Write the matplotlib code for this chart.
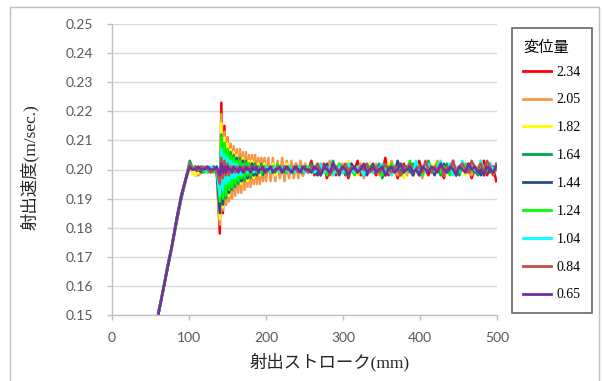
import numpy as np
import matplotlib
matplotlib.use("Agg")
import matplotlib.pyplot as plt
from matplotlib.patches import Rectangle
from matplotlib.ticker import MultipleLocator, FormatStrFormatter

# injection stroke sample points (mm), shared by every run
stroke = [60, 66, 72, 78, 84, 90, 96, 101,
          104, 108, 112, 116, 120, 124, 128, 132, 136,
          140, 142, 144, 146, 148, 150, 152, 154, 156, 158, 160, 162, 164, 166, 168,
          170, 172, 174, 176, 178, 180, 182, 184, 186, 188, 190, 192, 194, 196, 198, 200,
          203, 206, 209, 212, 215, 218, 221, 224, 227, 230, 233, 236, 239, 242, 245, 248, 251,
          255, 259, 263, 267, 271, 275, 279, 283, 287, 291, 295, 299, 303, 307, 311, 315,
          319, 323, 327, 331, 335, 339, 343, 347, 351, 355, 359, 363, 367, 371, 375, 379,
          383, 387, 391, 395, 399, 403, 407, 411, 415, 419, 423, 427, 431, 435, 439, 443,
          447, 451, 455, 459, 463, 467, 471, 475, 479, 483, 487, 491, 495, 499]

# injection speed for each displacement run (mm/sec)
v_234 = [150, 158, 166, 174, 183, 191, 197, 202,
         201, 200, 199, 201, 200, 200, 199, 201, 200,
         178, 223, 185, 215, 188, 211, 190, 208, 192, 207, 193, 206, 194, 205, 195,
         205, 196, 204, 196, 204, 197, 203, 197, 203, 197, 203, 198, 202, 198, 203, 198,
         202, 198, 202, 199, 202, 198, 201, 199, 202, 198, 201, 199, 202, 199, 201, 198, 201,
         200, 203, 198, 201, 199, 202, 197, 200, 201, 198, 202, 199, 200, 197, 201, 200,
         203, 198, 200, 199, 202, 200, 198, 201, 199, 204, 198, 200, 201, 197, 200, 202,
         199, 201, 198, 200, 203, 199, 200, 198, 201, 199, 202, 200, 197, 201, 200, 203,
         198, 200, 201, 199, 202, 197, 200, 201, 199, 203, 198, 200, 201, 196]
v_205 = [150, 158, 166, 173, 182, 190, 196, 201,
         199, 198, 198, 199, 199, 200, 200, 199, 200,
         181, 219, 186, 213, 188, 211, 189, 209, 190, 208, 191, 207, 192, 207, 192,
         206, 193, 206, 194, 205, 194, 205, 195, 205, 195, 204, 195, 204, 196, 204, 196,
         204, 196, 204, 196, 203, 197, 204, 196, 203, 197, 203, 197, 202, 197, 203, 198, 202,
         199, 201, 200, 198, 202, 199, 201, 203, 198, 200, 199, 202, 200, 198, 201, 199,
         200, 202, 197, 201, 200, 199, 202, 198, 200, 201, 199, 203, 200, 198, 201, 200,
         198, 202, 199, 201, 200, 197, 202, 200, 199, 201, 203, 198, 200, 199, 202, 200,
         198, 201, 200, 202, 199, 198, 201, 200, 203, 199, 200, 202, 198, 200]
v_182 = [150, 159, 166, 174, 183, 191, 197, 202,
         199, 198, 199, 199, 200, 199, 200, 200, 200,
         183, 216, 187, 211, 190, 209, 191, 207, 193, 206, 194, 205, 195, 204, 195,
         204, 196, 203, 196, 203, 197, 203, 197, 202, 198, 202, 198, 202, 198, 202, 199,
         201, 199, 202, 198, 201, 199, 201, 199, 202, 199, 201, 200, 201, 199, 201, 199, 200,
         201, 199, 200, 202, 198, 200, 201, 199, 202, 200, 198, 201, 200, 203, 199, 200,
         198, 201, 200, 199, 202, 200, 199, 201, 198, 200, 202, 199, 201, 200, 199, 197,
         201, 200, 202, 199, 200, 198, 201, 200, 202, 199, 200, 201, 198, 200, 199, 202,
         200, 199, 201, 198, 200, 202, 199, 201, 200, 198, 201, 199, 200, 201]
v_164 = [151, 158, 167, 174, 183, 191, 197, 203,
         201, 200, 200, 201, 200, 199, 200, 201, 200,
         186, 212, 188, 209, 190, 207, 192, 206, 193, 205, 194, 204, 195, 204, 196,
         203, 196, 203, 197, 202, 197, 202, 198, 202, 198, 201, 199, 202, 198, 201, 199,
         201, 199, 201, 199, 201, 200, 201, 199, 201, 200, 200, 199, 201, 200, 201, 199, 200,
         200, 202, 199, 201, 198, 200, 201, 199, 203, 200, 199, 201, 198, 200, 202, 199,
         200, 201, 198, 200, 201, 199, 200, 202, 197, 200, 201, 199, 200, 202, 198, 200,
         201, 199, 202, 200, 198, 201, 200, 203, 199, 200, 201, 198, 200, 202, 199, 201,
         200, 198, 201, 200, 199, 202, 200, 198, 201, 199, 200, 202, 199, 200]
v_144 = [150, 158, 166, 174, 182, 190, 197, 202,
         200, 201, 200, 199, 200, 201, 200, 200, 199,
         185, 209, 188, 207, 191, 206, 192, 205, 194, 204, 195, 204, 196, 203, 196,
         203, 197, 202, 197, 202, 198, 202, 198, 201, 198, 201, 199, 201, 199, 201, 199,
         201, 199, 201, 200, 201, 199, 200, 201, 199, 200, 201, 199, 200, 201, 200, 199, 201,
         199, 201, 200, 198, 201, 200, 202, 199, 200, 201, 198, 200, 201, 199, 202, 200,
         199, 201, 200, 198, 200, 202, 199, 200, 201, 198, 200, 201, 199, 203, 200, 199,
         201, 200, 198, 202, 199, 200, 201, 199, 200, 198, 201, 200, 202, 199, 200, 201,
         198, 200, 202, 199, 200, 201, 199, 200, 198, 201, 200, 199, 201, 200]
v_124 = [150, 158, 166, 174, 183, 191, 197, 202,
         201, 200, 201, 200, 199, 201, 200, 199, 201,
         189, 211, 190, 209, 191, 207, 193, 205, 194, 204, 195, 203, 196, 203, 197,
         202, 197, 202, 198, 202, 198, 201, 199, 201, 199, 201, 199, 201, 199, 201, 200,
         201, 199, 201, 200, 202, 199, 201, 200, 199, 201, 200, 199, 201, 200, 201, 199, 200,
         201, 199, 200, 202, 199, 201, 198, 200, 201, 199, 202, 200, 199, 201, 200, 198,
         201, 200, 199, 202, 200, 201, 199, 200, 198, 201, 200, 202, 199, 200, 201, 199,
         200, 203, 199, 200, 201, 198, 200, 201, 199, 200, 202, 199, 201, 200, 198, 201,
         200, 199, 200, 202, 199, 201, 200, 199, 201, 198, 200, 201, 199, 200]
v_104 = [150, 158, 166, 174, 183, 191, 197, 202,
         200, 200, 201, 200, 200, 199, 201, 200, 200,
         191, 207, 193, 205, 195, 204, 196, 203, 197, 202, 197, 202, 198, 201, 198,
         201, 199, 201, 199, 201, 199, 200, 199, 201, 200, 200, 199, 201, 200, 200, 200,
         201, 199, 200, 201, 200, 199, 201, 200, 200, 199, 201, 200, 199, 201, 200, 200, 199,
         200, 201, 199, 200, 202, 199, 200, 201, 198, 200, 201, 199, 200, 202, 200, 199,
         201, 200, 198, 201, 200, 199, 201, 200, 202, 199, 200, 198, 201, 200, 202, 199,
         200, 201, 199, 203, 200, 199, 201, 202, 199, 200, 201, 203, 199, 200, 202, 198,
         201, 200, 203, 199, 201, 202, 200, 199, 203, 200, 201, 202, 200, 201]
v_084 = [150, 158, 166, 174, 183, 191, 197, 202,
         200, 201, 200, 200, 201, 200, 199, 200, 200,
         195, 204, 197, 203, 198, 202, 198, 201, 199, 201, 199, 201, 199, 200, 200,
         201, 199, 200, 200, 201, 199, 200, 200, 201, 200, 199, 200, 201, 200, 200, 199,
         200, 201, 199, 200, 201, 200, 199, 201, 200, 200, 199, 201, 200, 199, 200, 201, 200,
         199, 201, 200, 202, 199, 200, 201, 198, 200, 201, 199, 200, 202, 199, 201, 200,
         199, 201, 200, 202, 199, 200, 201, 199, 200, 202, 200, 199, 201, 200, 198, 201,
         200, 202, 199, 200, 201, 199, 203, 200, 199, 201, 200, 202, 198, 201, 200, 203,
         199, 201, 202, 200, 199, 203, 201, 200, 202, 199, 203, 201, 198, 202]
v_065 = [150, 158, 166, 174, 183, 191, 197, 201,
         200, 200, 201, 200, 200, 201, 200, 200, 201,
         198, 202, 199, 201, 199, 201, 200, 200, 199, 201, 200, 200, 199, 201, 200,
         199, 200, 201, 200, 200, 199, 201, 200, 200, 201, 199, 200, 200, 201, 199, 200,
         200, 201, 199, 200, 200, 201, 199, 200, 201, 200, 199, 200, 201, 200, 199, 201, 200,
         200, 199, 201, 200, 198, 201, 200, 199, 202, 200, 199, 201, 200, 198, 200, 201,
         199, 200, 202, 199, 200, 201, 199, 200, 201, 198, 200, 201, 199, 200, 202, 199,
         200, 201, 199, 200, 198, 201, 200, 199, 201, 200, 199, 202, 200, 199, 201, 200,
         198, 201, 200, 199, 202, 200, 201, 199, 200, 198, 201, 200, 199, 201]

runs = [v_234, v_205, v_182, v_164, v_144, v_124, v_104, v_084, v_065]
labels = ["2.34", "2.05", "1.82", "1.64", "1.44", "1.24", "1.04", "0.84", "0.65"]
colors = ["#ff0000", "#f79646", "#ffff00", "#00a550", "#2c4d8a",
          "#00ff00", "#00ffff", "#c0504d", "#7030a0"]

serif = ["Liberation Serif", "Noto Sans CJK JP"]

fig = plt.figure(figsize=(6.02, 3.81), dpi=100)
ax = fig.add_axes([112 / 602, 1 - 315 / 381, 385 / 602, 291 / 381])

for v, lab, col in zip(runs, labels, colors):
    ax.plot(stroke, np.array(v) / 1000.0, color=col, lw=1.8, label=lab,
            solid_joinstyle="round")

ax.set_xlim(0, 500)
ax.set_ylim(0.15, 0.25)
ax.xaxis.set_major_locator(MultipleLocator(100))
ax.yaxis.set_major_locator(MultipleLocator(0.01))
ax.yaxis.set_major_formatter(FormatStrFormatter("%.2f"))
ax.grid(axis="y", color="#d9d9d9", lw=1)
ax.set_axisbelow(True)
for side in ["top", "right"]:
    ax.spines[side].set_visible(False)
for side in ["left", "bottom"]:
    ax.spines[side].set_color("#bfbfbf")
    ax.spines[side].set_linewidth(1)
ax.tick_params(axis="both", direction="out", length=3.5, width=1, color="#bfbfbf",
               labelcolor="#595959", labelsize=10)
ax.tick_params(axis="y", pad=10)
ax.tick_params(axis="x", pad=9)
for t in ax.get_xticklabels() + ax.get_yticklabels():
    t.set_fontfamily("Lato")

fig.text(30 / 602, 1 - 167 / 381, "射出速度(m/sec.)", rotation=90, ha="center",
         va="center", fontsize=12.5, family=serif, color="#262626")
fig.text(330 / 602, 1 - 362 / 381, "射出ストローク(mm)", ha="center", va="center",
         fontsize=12.5, family=serif, color="#262626")

leg = fig.legend(loc="upper left", bbox_to_anchor=(512 / 602, 1 - 28 / 381),
                 borderaxespad=0, title="変位量", fancybox=False, frameon=True,
                 borderpad=0.8, handlelength=2.0, handletextpad=0.4,
                 labelspacing=1.07, prop={"family": serif, "size": 10},
                 alignment="left")
leg.get_title().set_fontfamily("Noto Sans CJK JP")
leg.get_title().set_fontsize(11)
leg.get_frame().set_edgecolor("#404040")
leg.get_frame().set_linewidth(1.2)
# tighter gap between the title and the first entry
leg._legend_box.sep = 6.8
for line in leg.get_lines():
    line.set_linewidth(2)

# thin grey frame around the whole chart area
fig.patches.append(Rectangle((10 / 602, -0.05), 589 / 602, 1.05 - 7 / 381,
                             transform=fig.transFigure, fill=False,
                             edgecolor="#bfbfbf", lw=1))

fig.savefig("out.png", dpi=100)
